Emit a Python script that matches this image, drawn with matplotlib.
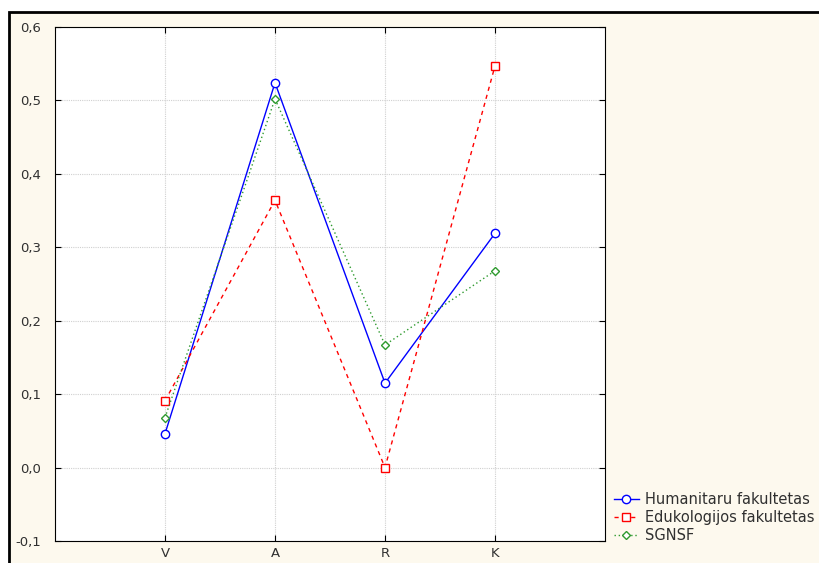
import matplotlib
matplotlib.use("Agg")
import matplotlib.pyplot as plt
from matplotlib.patches import Rectangle
from matplotlib.ticker import FuncFormatter

categories = ["V", "A", "R", "K"]
humanitaru = [0.046, 0.524, 0.115, 0.319]
edukologijos = [0.091, 0.364, 0.0, 0.547]
sgnsf = [0.068, 0.502, 0.167, 0.268]
series_names = ["Humanitaru fakultetas", "Edukologijos fakultetas", "SGNSF"]

plt.rcParams["font.family"] = ["DejaVu Sans"]
plt.rcParams["font.size"] = 9.5

fig = plt.figure(figsize=(8.2, 5.63), dpi=100)
fig.patch.set_facecolor("white")

# cream panel with black frame, running off the right/bottom edge
W, H = 820.0, 563.0
fig.patches.append(Rectangle((9 / W, -0.1), 1.2, 1 - 12 / H + 0.1,
                             transform=fig.transFigure, facecolor="#fdf9ee",
                             edgecolor="black", linewidth=2, zorder=-10))

ax = fig.add_axes([55 / W, 1 - 541 / H, 550 / W, 514 / H])
ax.set_zorder(1)
ax.set_facecolor("white")

xs = range(1, len(categories) + 1)
ax.plot(xs, humanitaru, color="#0000ff", lw=1, marker="o", ms=6,
        mfc="white", mec="#0000ff", mew=1, label=series_names[0], zorder=3)
ax.plot(xs, edukologijos, color="#ff0000", lw=1, ls=(0, (3, 3)), marker="s",
        ms=6, mfc="white", mec="#ff0000", mew=1, label=series_names[1], zorder=3)
ax.plot(xs, sgnsf, color="#2e9a2e", lw=1, ls=(0, (1, 2)), marker="D", ms=4,
        mfc="white", mec="#2e9a2e", mew=1, label=series_names[2], zorder=3)

ax.set_xlim(0, 5)
ax.set_ylim(-0.1, 0.6)
ax.set_xticks(list(xs))
ax.set_xticklabels(categories)
ax.set_yticks([-0.1, 0.0, 0.1, 0.2, 0.3, 0.4, 0.5, 0.6])
ax.yaxis.set_major_formatter(FuncFormatter(lambda v, p: f"{v:.1f}".replace(".", ",")))
ax.grid(True, color="#d0d0d0", ls=(0, (1, 1)), lw=0.8)
ax.tick_params(direction="in", length=4, width=0.8, right=True, top=True,
               labelsize=9.5, colors="black", labelcolor="#303030", pad=10)
ax.tick_params(axis="x", pad=4)
for s in ax.spines.values():
    s.set_linewidth(0.8)

leg = ax.legend(loc="upper left", bbox_to_anchor=((614 - 55) / 550, (541 - 492) / 514),
                frameon=False, handlelength=1.7, handletextpad=0.45,
                labelspacing=0.2, borderpad=0, borderaxespad=0, fontsize=10.5,
                labelcolor="#303030")

fig.savefig("out.png", dpi=100)
